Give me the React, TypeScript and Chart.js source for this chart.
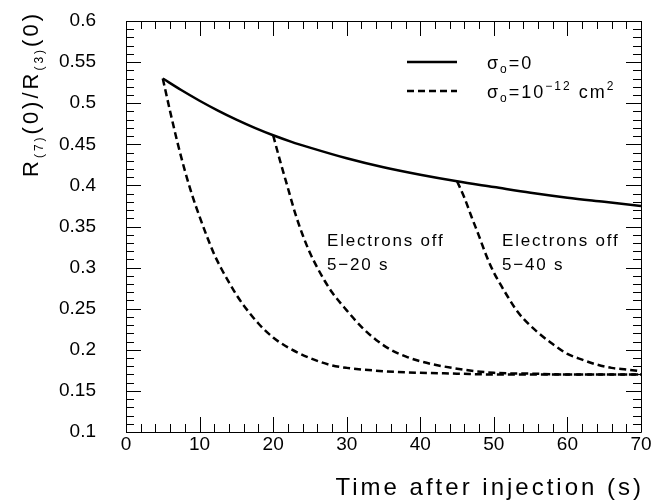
import React, { useEffect, useRef } from "react";
import { Chart, registerables } from "chart.js";

Chart.register(...registerables);

// ---- data ----
const xSolid = [5, 7.5, 10, 12.5, 15, 17.5, 20, 22.5, 25, 30, 35, 40, 45, 50, 55, 60, 65, 70];
const ySolid = [0.53, 0.516, 0.503, 0.491, 0.48, 0.47, 0.461, 0.453, 0.446, 0.433, 0.422, 0.413, 0.405, 0.398, 0.391, 0.385, 0.38, 0.375];

const xOff5 = [5, 6, 7, 8, 9, 10, 11, 12, 13, 14, 15, 16, 18, 20, 22, 25, 28, 30, 35, 40, 45, 50, 55, 60, 65, 70];
const yOff5 = [0.53, 0.49, 0.452, 0.418, 0.388, 0.362, 0.338, 0.316, 0.298, 0.282, 0.267, 0.254, 0.232, 0.215, 0.203, 0.19, 0.181, 0.178, 0.174, 0.172, 0.171, 0.17, 0.17, 0.17, 0.17, 0.17];

const xOff20 = [20, 21, 22, 23, 24, 25, 26, 27, 28, 30, 32, 34, 36, 38, 40, 45, 50, 55, 60, 70];
const yOff20 = [0.461, 0.428, 0.397, 0.366, 0.34, 0.318, 0.3, 0.284, 0.27, 0.248, 0.228, 0.212, 0.2, 0.192, 0.186, 0.177, 0.172, 0.171, 0.17, 0.17];

const xOff40 = [45, 46, 47, 48, 49, 50, 51, 52, 53, 54, 56, 58, 60, 62, 64, 66, 68, 70];
const yOff40 = [0.405, 0.385, 0.361, 0.338, 0.314, 0.294, 0.278, 0.263, 0.249, 0.238, 0.221, 0.207, 0.195, 0.188, 0.182, 0.178, 0.176, 0.174];

const xRange = [0, 70];
const yRange = [0.1, 0.6];
const xStep = 10;
const yStep = 0.05;

const xTitle = "Time after injection (s)";
const seriesLabels = ["σo=0", "σo=10^-12 cm^2"];
const annotation1 = ["Electrons off", "5−20 s"];
const annotation2 = ["Electrons off", "5−40 s"];

const FONT = "'Liberation Sans', 'DejaVu Sans', sans-serif";

type Part = { t: string; s: number; dy: number };

function drawParts(ctx: CanvasRenderingContext2D, parts: Part[], x: number, y: number) {
  let cx = x;
  for (const p of parts) {
    ctx.font = `${p.s}px ${FONT}`;
    ctx.fillText(p.t, cx, y + p.dy);
    cx += ctx.measureText(p.t).width;
  }
  return cx - x;
}
function partsWidth(ctx: CanvasRenderingContext2D, parts: Part[]) {
  let w = 0;
  for (const p of parts) {
    ctx.font = `${p.s}px ${FONT}`;
    w += ctx.measureText(p.t).width;
  }
  return w;
}

const toPts = (xs: number[], ys: number[]) => xs.map((x, i) => ({ x, y: ys[i] }));
const fmt = (v: number) => String(Number(v.toFixed(2)));

const framePlugin = {
  id: "frame",
  afterDraw(chart: any) {
    const ctx: any = chart.ctx;
    const xs = chart.scales.x;
    const ys = chart.scales.y;
    const { left, right, top, bottom } = chart.chartArea;
    ctx.save();
    ctx.strokeStyle = "#000";
    ctx.lineWidth = 1;
    ctx.beginPath();
    ctx.rect(Math.round(left) + 0.5, Math.round(top) + 0.5, Math.round(right - left), Math.round(bottom - top));
    ctx.stroke();
    ctx.beginPath();
    for (let v = xRange[0]; v <= xRange[1]; v += 2) {
      const px = Math.round(xs.getPixelForValue(v)) + 0.5;
      const len = v % 10 === 0 ? 15 : 8;
      ctx.moveTo(px, bottom);
      ctx.lineTo(px, bottom - len);
      ctx.moveTo(px, top);
      ctx.lineTo(px, top + len);
    }
    for (let i = 10; i <= 60; i++) {
      const py = Math.round(ys.getPixelForValue(i / 100)) + 0.5;
      const len = i % 5 === 0 ? 15 : 8;
      ctx.moveTo(left, py);
      ctx.lineTo(left + len, py);
      ctx.moveTo(right, py);
      ctx.lineTo(right - len, py);
    }
    ctx.stroke();

    // tick labels
    ctx.fillStyle = "#000";
    ctx.font = `19px ${FONT}`;
    ctx.textBaseline = "middle";
    ctx.textAlign = "right";
    for (const t of ys.ticks) {
      ctx.fillText(fmt(t.value), 96, ys.getPixelForValue(t.value));
    }
    ctx.textAlign = "center";
    for (const t of xs.ticks) {
      ctx.fillText(fmt(t.value), xs.getPixelForValue(t.value), bottom + 13);
    }

    // legend
    ctx.lineWidth = 2.5;
    ctx.beginPath();
    ctx.moveTo(407, 62);
    ctx.lineTo(457, 62);
    ctx.stroke();
    ctx.setLineDash([7, 4]);
    ctx.beginPath();
    ctx.moveTo(407, 91);
    ctx.lineTo(457, 91);
    ctx.stroke();
    ctx.setLineDash([]);

    ctx.textBaseline = "alphabetic";
    ctx.textAlign = "left";
    ctx.letterSpacing = "2px";
    drawParts(ctx, [
      { t: "σ", s: 18, dy: 0 },
      { t: "o", s: 12, dy: 4 },
      { t: "=0", s: 18, dy: 0 },
    ], 487, 69);
    drawParts(ctx, [
      { t: "σ", s: 18, dy: 0 },
      { t: "o", s: 12, dy: 4 },
      { t: "=10", s: 18, dy: 0 },
      { t: "−12", s: 12, dy: -8 },
      { t: " cm", s: 18, dy: 0 },
      { t: "2", s: 12, dy: -8 },
    ], 487, 98);

    // annotations
    ctx.letterSpacing = "1.8px";
    ctx.font = `17px ${FONT}`;
    ctx.fillText(annotation1[0], 327, 246);
    ctx.fillText(annotation1[1], 327, 270);
    ctx.fillText(annotation2[0], 502, 246);
    ctx.fillText(annotation2[1], 502, 270);

    // x title (right aligned)
    ctx.letterSpacing = "3px";
    ctx.font = `24px ${FONT}`;
    const tw = ctx.measureText(xTitle).width;
    ctx.fillText(xTitle, 644 - tw, 495);

    // y title rotated
    ctx.letterSpacing = "3px";
    const yParts: Part[] = [
      { t: "R", s: 22, dy: 0 },
      { t: "(7)", s: 12, dy: 5 },
      { t: "(0)/R", s: 22, dy: 0 },
      { t: "(3)", s: 12, dy: 5 },
      { t: "(0)", s: 22, dy: 0 },
    ];
    const w = partsWidth(ctx, yParts);
    ctx.translate(38, 94);
    ctx.rotate(-Math.PI / 2);
    drawParts(ctx, yParts, -w / 2, 0);
    ctx.restore();
  },
};

export default function App() {
  const ref = useRef<HTMLCanvasElement | null>(null);
  useEffect(() => {
    document.body.style.margin = "0";
    const canvas = ref.current!;
    const common = { pointRadius: 0, borderColor: "#000", fill: false, cubicInterpolationMode: "monotone" as const };
    const chart = new Chart(canvas, {
      type: "line",
      data: {
        datasets: [
          { ...common, label: seriesLabels[0], data: toPts(xSolid, ySolid), borderWidth: 2.5 },
          { ...common, label: seriesLabels[1], data: toPts(xOff5, yOff5), borderWidth: 2.5, borderDash: [7, 4] },
          { ...common, label: seriesLabels[1], data: toPts(xOff20, yOff20), borderWidth: 2.5, borderDash: [7, 4] },
          { ...common, label: seriesLabels[1], data: toPts(xOff40, yOff40), borderWidth: 2.5, borderDash: [7, 4] },
        ],
      },
      options: {
        responsive: false,
        animation: false,
        devicePixelRatio: 1,
        layout: { padding: { top: 21, right: 13, left: 0, bottom: 0 } },
        plugins: { legend: { display: false }, tooltip: { enabled: false } },
        scales: {
          x: {
            type: "linear",
            min: xRange[0],
            max: xRange[1],
            grid: { display: false, drawTicks: false },
            border: { display: false },
            ticks: { stepSize: xStep, display: false },
            afterFit: (s: any) => { s.height = 70; },
          },
          y: {
            type: "linear",
            min: yRange[0],
            max: yRange[1],
            grid: { display: false, drawTicks: false },
            border: { display: false },
            ticks: { stepSize: yStep, display: false },
            afterFit: (s: any) => { s.width = 126; },
          },
        },
      },
      plugins: [framePlugin],
    });
    return () => chart.destroy();
  }, []);
  return (
    <div style={{ width: 654, height: 502 }}>
      <canvas ref={ref} width={654} height={502} />
    </div>
  );
}
